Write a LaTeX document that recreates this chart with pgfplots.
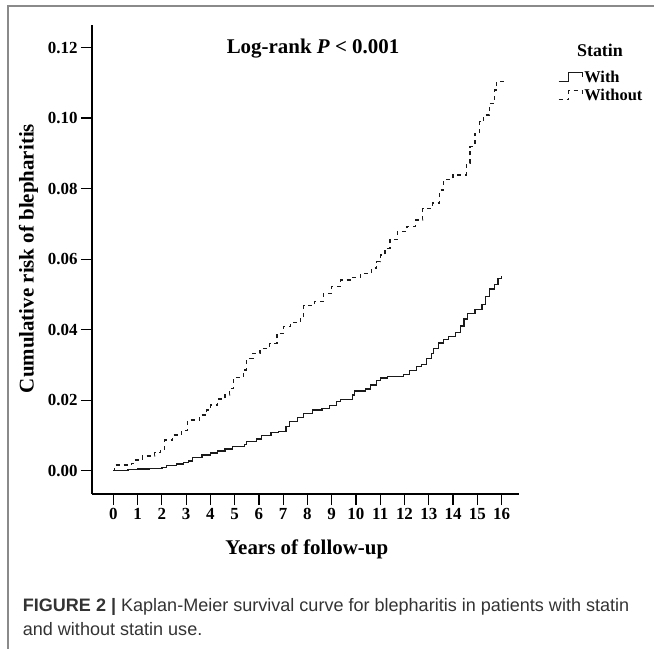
\documentclass[border=0pt]{standalone}
\usepackage{pgfplots}
\pgfplotsset{compat=1.18}
\usepackage{pgfplotstable}
\usepackage{fontspec}
\setmainfont{Liberation Serif}
\newfontfamily\capfont{Liberation Sans}
\definecolor{capgray}{HTML}{333333}
\definecolor{framegray}{HTML}{8A8A8A}
\definecolor{curve}{HTML}{1A1A1A}

\pgfplotstableread{
x y
0 0
0.6 0.0003
1.0 0.0005
1.5 0.0007
2.0 0.0009
2.2 0.0014
2.6 0.0019
2.9 0.0023
3.1 0.0028
3.25 0.0037
3.65 0.0045
4.0 0.0050
4.3 0.0056
4.6 0.0062
4.9 0.0068
5.4 0.0075
5.5 0.0082
5.9 0.0090
6.1 0.0100
6.5 0.0108
6.8 0.0111
7.12 0.0125
7.25 0.0140
7.6 0.0150
7.85 0.0163
8.2 0.0172
8.6 0.0176
8.9 0.0184
9.2 0.0197
9.35 0.0202
9.85 0.0215
9.95 0.0226
10.4 0.0232
10.6 0.0243
10.85 0.0255
11.0 0.0263
11.3 0.0267
11.95 0.0272
12.2 0.0285
12.5 0.0295
12.7 0.0302
12.9 0.0318
13.1 0.0332
13.2 0.0347
13.4 0.0362
13.6 0.0373
13.8 0.0381
14.1 0.0392
14.3 0.0410
14.45 0.0430
14.6 0.0445
14.9 0.0458
15.2 0.0472
15.35 0.0495
15.5 0.0515
15.7 0.0528
15.85 0.0545
16.0 0.0552
}\withstatin

\pgfplotstableread{
x y
0 0
0.05 0.0016
0.75 0.0021
0.85 0.0030
1.2 0.0042
1.7 0.0051
1.95 0.0059
2.1 0.0087
2.45 0.0101
2.8 0.0115
3.05 0.0144
3.55 0.0158
3.85 0.0172
4.0 0.0186
4.3 0.0203
4.6 0.0215
4.8 0.0234
4.95 0.0265
5.35 0.0286
5.5 0.0319
5.75 0.0333
6.05 0.0347
6.45 0.0361
6.75 0.0390
7.0 0.0408
7.3 0.0420
7.7 0.0432
7.85 0.0468
8.3 0.0480
8.65 0.0503
9.0 0.0522
9.35 0.0541
9.75 0.0548
10.2 0.0560
10.65 0.0575
10.85 0.0593
11.0 0.0612
11.2 0.0631
11.4 0.0655
11.7 0.0678
12.1 0.0692
12.45 0.0711
12.75 0.0744
13.15 0.0759
13.45 0.0796
13.6 0.0825
14.0 0.0839
14.55 0.0872
14.7 0.0919
14.9 0.0957
15.1 0.0990
15.25 0.1009
15.5 0.1042
15.7 0.1080
15.8 0.1104
16.15 0.1104
}\withoutstatin

\begin{document}
\begin{tikzpicture}
\path[use as bounding box] (0,0) rectangle (654bp,649bp);
\draw[framegray, line width=2bp] (7.7bp,0) -- (7.7bp,643bp) -- (654bp,643bp);
\begin{axis}[
  at={(92bp,155bp)}, anchor=south west,
  scale only axis, width=427bp, height=469bp,
  xmin=-0.88, xmax=16.72, ymin=-0.0066, ymax=0.1264,
  axis lines=left, axis line style={-, line width=1.2bp, black},
  xtick={0,1,...,16}, ytick={0,0.02,0.04,0.06,0.08,0.1,0.12},
  tick align=outside, major tick length=11bp,
  tick style={line width=1.2bp, black},
  /pgf/number format/assume math mode=true,
  yticklabel style={/pgf/number format/fixed, /pgf/number format/fixed zerofill, /pgf/number format/precision=2},
  scaled y ticks=false,
  tick label style={font=\fontsize{17}{19}\selectfont\bfseries},
  title={Log-rank \textbf{\textit{P}} < 0.001},
  title style={at={(axis description cs:0.5176,0.9275)}, anchor=base, font=\fontsize{21}{24}\selectfont\bfseries},
  xlabel={Years of follow-up},
  xlabel style={at={(axis description cs:0.503,-0.130)}, anchor=base, font=\fontsize{21}{24}\selectfont\bfseries},
  ylabel={Cumulative risk of blepharitis},
  ylabel style={at={(axis description cs:-0.1487,0.502)}, anchor=center, font=\fontsize{21}{24}\selectfont\bfseries},
  clip=false,
  legend style={at={(axis description cs:1.0913,0.905)}, anchor=north west, draw=none, fill=none,
    inner sep=0pt, row sep=3bp, font=\fontsize{16.5}{18}\selectfont\bfseries,
    nodes={inner sep=1bp}},
  legend cell align=left,
]
\addplot[const plot, curve, line width=1.3bp,
  legend image code/.code={\draw[curve, line width=1.1bp] (0bp,-4.5bp) -- (10bp,-4.5bp) -- (10bp,4.5bp) -- (24bp,4.5bp) -- (24bp,0bp);}]
  table[x=x,y=y] {\withstatin};
\addlegendentry{With}
\addplot[const plot, curve, line width=1.3bp, dash pattern=on 4bp off 4bp,
  legend image code/.code={\draw[curve, line width=1.1bp, dash pattern=on 4bp off 4bp] (0bp,-4.5bp) -- (10bp,-4.5bp) -- (10bp,4.5bp) -- (24bp,4.5bp) -- (24bp,0bp);}]
  table[x=x,y=y] {\withoutstatin};
\addlegendentry{Without}
\end{axis}
\node[anchor=base, font=\fontsize{18}{21}\selectfont\bfseries] at (600bp,649bp-57bp) {Statin};
\node[anchor=base west, inner sep=0pt, font=\capfont\fontsize{18.1}{25}\selectfont, text=capgray] at (22.7bp,38bp)
  {\textbf{FIGURE 2 |} Kaplan-Meier survival curve for blepharitis in patients with statin};
\node[anchor=base west, inner sep=0pt, font=\capfont\fontsize{18.1}{25}\selectfont, text=capgray] at (22.7bp,14bp)
  {and without statin use.};
\end{tikzpicture}
\end{document}
